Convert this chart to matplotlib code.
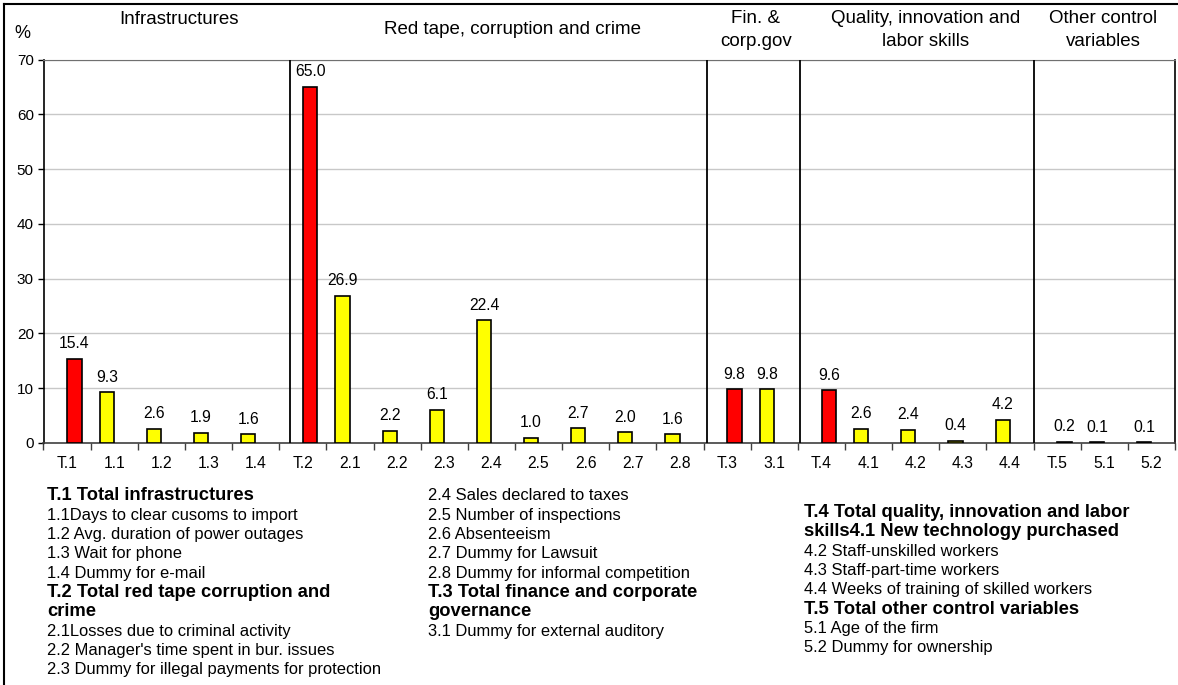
import matplotlib
matplotlib.use("Agg")
import matplotlib.pyplot as plt
from matplotlib.lines import Line2D
import numpy as np

plt.rcParams['font.family'] = ['Liberation Sans', 'DejaVu Sans']

# data
labels = ['T.1', '1.1', '1.2', '1.3', '1.4',
          'T.2', '2.1', '2.2', '2.3', '2.4', '2.5', '2.6', '2.7', '2.8',
          'T.3', '3.1',
          'T.4', '4.1', '4.2', '4.3', '4.4',
          'T.5', '5.1', '5.2']
values = [15.4, 9.3, 2.6, 1.9, 1.6,
          65.0, 26.9, 2.2, 6.1, 22.4, 1.0, 2.7, 2.0, 1.6,
          9.8, 9.8,
          9.6, 2.6, 2.4, 0.4, 4.2,
          0.2, 0.1, 0.1]
is_total = [l.startswith('T') for l in labels]

groups = ['Infrastructures', 'Red tape, corruption and crime', 'Fin. &\ncorp.gov',
          'Quality, innovation and\nlabor skills', 'Other control\nvariables']
group_px = [(179, 19), (513, 30), (756, 30), (926, 30), (1103, 30)]
separators = [4.73, 13.58, 15.55, 20.5]

notes_left = [('T.1 Total infrastructures', True),
              ('1.1Days to clear cusoms to import', False),
              ('1.2 Avg. duration of power outages', False),
              ('1.3 Wait for phone', False),
              ('1.4 Dummy for e-mail', False),
              ('T.2 Total red tape corruption and', True),
              ('crime', True),
              ('2.1Losses due to criminal activity', False),
              ("2.2 Manager's time spent in bur. issues", False),
              ('2.3 Dummy for illegal payments for protection', False)]
notes_mid = [('2.4 Sales declared to taxes', False),
             ('2.5 Number of inspections', False),
             ('2.6 Absenteeism', False),
             ('2.7 Dummy for Lawsuit', False),
             ('2.8 Dummy for informal competition', False),
             ('T.3 Total finance and corporate', True),
             ('governance', True),
             ('3.1 Dummy for external auditory', False)]
notes_right = [('T.4 Total quality, innovation and labor', True),
               ('skills4.1 New technology purchased', True),
               ('4.2 Staff-unskilled workers', False),
               ('4.3 Staff-part-time workers', False),
               ('4.4 Weeks of training of skilled workers', False),
               ('T.5 Total other control variables', True),
               ('5.1 Age of the firm', False),
               ('5.2 Dummy for ownership', False)]

W, H = 1178, 685
fig = plt.figure(figsize=(W / 100, H / 100), dpi=100)


def fx(x):
    return x / W


def fy(y):
    return 1 - y / H


ax = fig.add_axes([fx(43.5), fy(443), (1175 - 43.5) / W, (443 - 59.5) / H])

x = np.arange(len(labels))
vals = np.array(values)
tot = np.array(is_total)
off = 0.157
bw = 0.3
# components (yellow, left of the slot) and totals (red, right of the slot)
ax.bar(x[~tot] - off, vals[~tot], bw, color='#FFFF00', edgecolor='black', linewidth=1.2, zorder=3)
ax.bar(x[tot] + off, vals[tot], bw, color='#FF0000', edgecolor='black', linewidth=1.2, zorder=3)

for i, (v, t) in enumerate(zip(values, is_total)):
    xi = i + off if t else i - off
    ax.annotate(f'{v:.1f}', (xi, v), xytext=(0, 15), textcoords='offset pixels',
                ha='center', va='center', fontsize=11.3)

for s in separators:
    ax.plot([s, s], [0, 70], color='black', lw=1.3, zorder=4)

ax.set_xlim(-0.5, len(labels) - 0.5)
ax.set_ylim(0, 70)
ax.set_yticks(range(0, 71, 10))
ax.tick_params(axis='y', length=4, width=1, labelsize=11, pad=3)
ax.set_xticks(x)
ax.set_xticklabels(labels, fontsize=11.3)
ax.tick_params(axis='x', length=0, pad=9)
ax.set_xticks(np.arange(-0.5, len(labels)), minor=True)
ax.tick_params(axis='x', which='minor', length=5, width=1, color='#404040')
ax.grid(axis='y', color='#c8c8c8', lw=1, zorder=0)
ax.set_axisbelow(True)
ax.spines['top'].set_color('#707070')
ax.spines['left'].set_linewidth(1.2)
ax.spines['bottom'].set_linewidth(1.2)
ax.spines['bottom'].set_color('#404040')
ax.spines['right'].set_linewidth(1.2)

fig.text(fx(14), fy(33), '%', fontsize=13, va='center')
for g, (gx, gy) in zip(groups, group_px):
    fig.text(fx(gx), fy(gy), g, fontsize=13.5, ha='center', va='center',
             linespacing=1.45)


def put_notes(notes, x0, y0, step=19.3):
    for k, (txt, bold) in enumerate(notes):
        fig.text(fx(x0), fy(y0 + k * step), txt, va='center',
                 fontsize=13.2 if bold else 11.9,
                 fontweight='bold' if bold else 'normal')


put_notes(notes_left, 47, 496)
put_notes(notes_mid, 428, 496)
put_notes(notes_right, 804, 512.7)

# chart border
fig.add_artist(Line2D([fx(4), fx(4)], [fy(4), 0], color='black', lw=1.5))
fig.add_artist(Line2D([fx(4), 1], [fy(4), fy(4)], color='black', lw=1.5))

fig.savefig('out.png', dpi=100)
